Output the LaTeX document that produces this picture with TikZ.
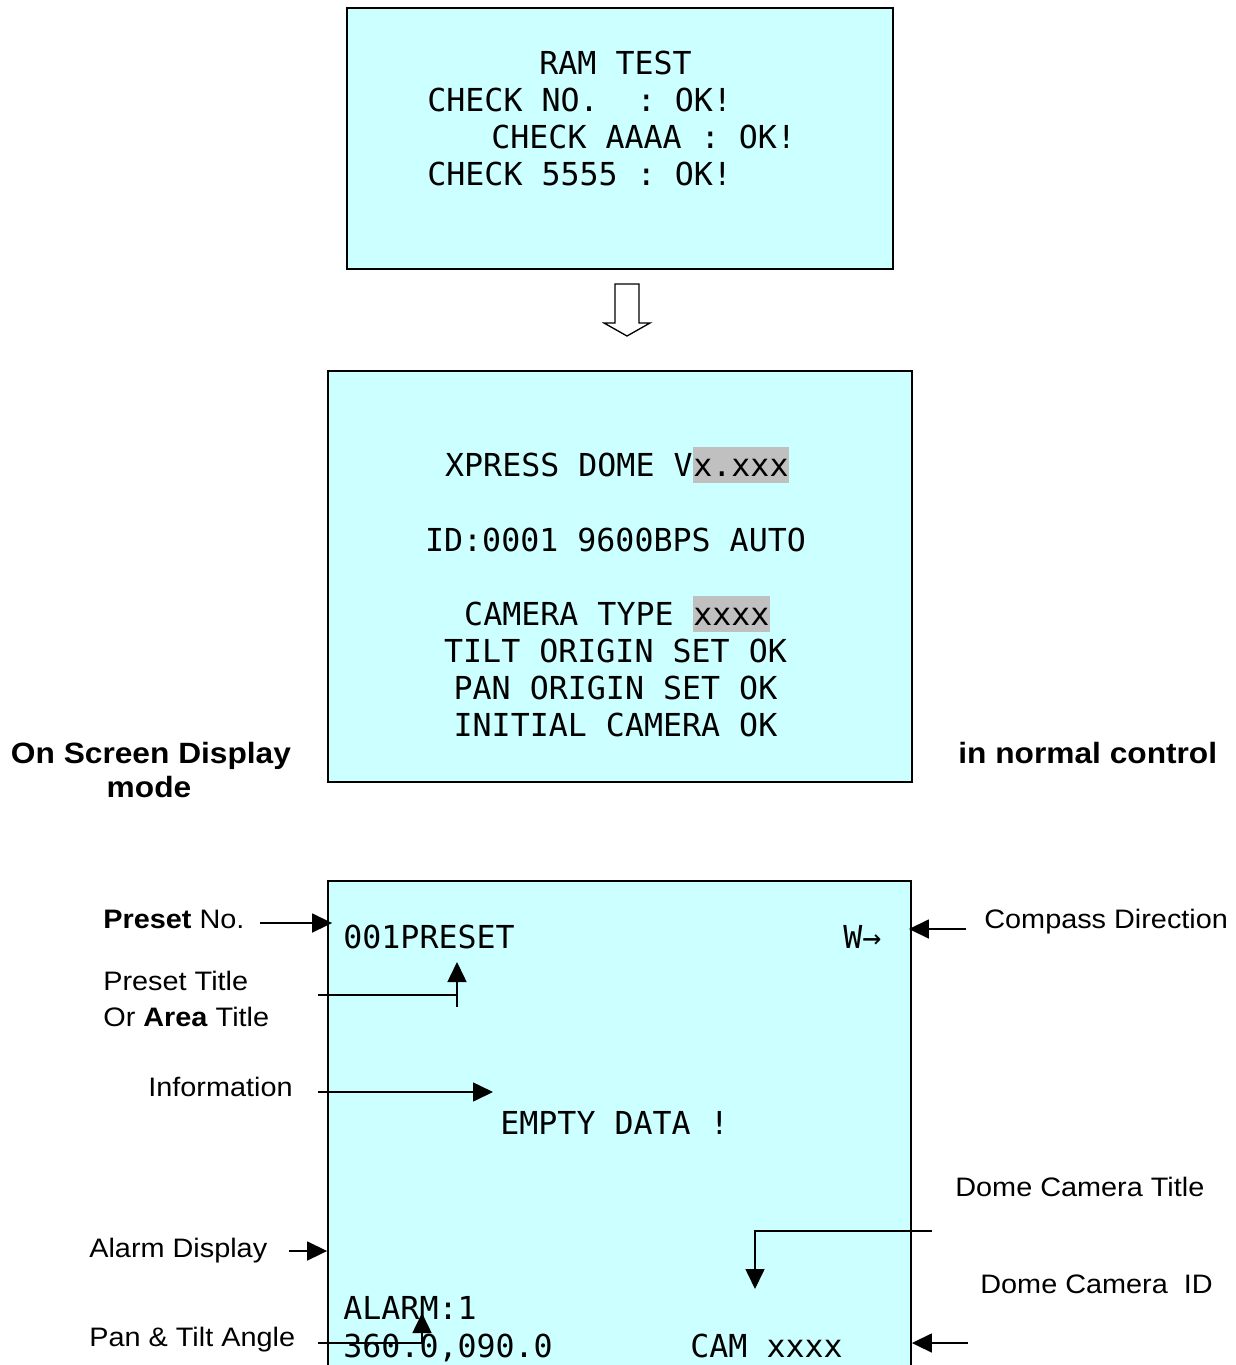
\documentclass[tikz,border=0pt]{standalone}
\usepackage{fontspec}
\setmainfont{Liberation Sans}[FakeStretch=1.08]
\setmonofont{DejaVu Sans Mono}
\usepackage{tikz}
\usetikzlibrary{arrows.meta,positioning}
\definecolor{screencyan}{RGB}{204,255,255}
\definecolor{hlgray}{RGB}{192,192,192}
\tikzset{
    %Define style for the screens
    screen/.style={
           rectangle,
           draw=black, line width=1.1pt,
           fill=screencyan},
    %Define style for screen text
    osd/.style={
           font=\ttfamily\fontsize{18}{21}\selectfont,
           inner sep=0pt},
    hl/.style={
           osd,
           fill=hlgray,
           text height=0.59cm,
           text depth=0.13cm},
    %Define style for labels
    lbl/.style={
           font=\fontsize{15.2}{20}\selectfont,
           inner sep=0pt},
    head/.style={
           font=\bfseries\fontsize{16.7}{20}\selectfont,
           inner sep=0pt},
    % Define arrow style
    pil/.style={
           -{Triangle[length=0.4cm,width=0.38cm]},
           line width=0.9pt},
    lin/.style={
           line width=0.9pt}
}

\begin{document}
\begin{tikzpicture}[x=0.02cm, y=-0.02cm]
 \useasboundingbox (0,0) rectangle (1236,1365);
 %screens
 \node[screen, minimum width=10.92cm, minimum height=5.22cm] (ramscr) at (620,138.5) {};
 \node[screen, minimum width=11.68cm, minimum height=8.22cm] (bootscr) at (620,576.5) {};
 \node[screen, minimum width=11.66cm, minimum height=9.88cm] (osdscr) at (619.5,1128) {};

 %ram test screen
 \node[osd, anchor=base west] (ramtest) at (539,75) {RAM TEST};
 \node[osd, anchor=base west] (chkno) at (427,112) {CHECK NO.\ \ : OK!};
 \node[osd, anchor=base west] (chka) at (491,149) {CHECK AAAA : OK!};
 \node[osd, anchor=base west] (chkf) at (427,186) {CHECK 5555 : OK!};

 % hollow arrow between the screens
 \draw[line width=0.75pt, fill=white] (615,284) -- (639,284) -- (639,323) -- (650,323)
   -- (627,336) -- (604,323) -- (615,323) -- cycle;

 %boot screen
 \node[osd, anchor=base east] (ver) at (693,476.5) {XPRESS DOME V};
 \node[hl, anchor=base west] (verx) at (ver.base east) {x.xxx};
 \node[osd, anchor=base] (idline) at (615.5,551.5) {ID:0001 9600BPS AUTO};
 \node[osd, anchor=base east] (ctype) at (674,625.5) {CAMERA TYPE};
 \node[hl, anchor=base west] (ctypex) at ([xshift=0.38cm]ctype.base east) {xxxx};
 \node[osd, anchor=base] (tilt) at (615.5,662.5) {TILT ORIGIN SET OK};
 \node[osd, anchor=base] (pan) at (615.5,699.5) {PAN ORIGIN SET OK};
 \node[osd, anchor=base] (initcam) at (615.5,736.5) {INITIAL CAMERA OK};

 %headings
 \node[head, anchor=base] (osdhead) at (151,763) {On Screen Display};
 \node[head, anchor=base] (osdmode) at (149,797) {mode};
 \node[head, anchor=base west] (normal) at (958,763) {in normal control};

 %osd screen
 \node[osd, anchor=base west] (presetln) at (343,948.5) {001PRESET};
 \node[osd, anchor=base west] (compass) at (843,948.5) {W→};
 \node[osd, anchor=base west] (info) at (500,1134.5) {EMPTY DATA !};
 \node[osd, anchor=base west] (alarm) at (343,1319.5) {ALARM:1};
 \node[osd, anchor=base west] (angle) at (343,1357.5) {360.0,090.0};
 \node[osd, anchor=base west] (camid) at (690,1357.5) {CAM xxxx};

 %labels
 \node[lbl, anchor=base west] (presetno) at (103,928) {\textbf{Preset} No.};
 \node[lbl, anchor=base west] (ptitle) at (103,990) {Preset Title};
 \node[lbl, anchor=base west] (atitle) at (103,1026) {Or \textbf{Area} Title};
 \node[lbl, anchor=base west] (infolbl) at (148,1096) {Information};
 \node[lbl, anchor=base west] (alarmlbl) at (89,1257) {Alarm Display};
 \node[lbl, anchor=base west] (anglelbl) at (89,1346) {Pan \& Tilt Angle};
 \node[lbl, anchor=base west] (compasslbl) at (984,928) {Compass Direction};
 \node[lbl, anchor=base west] (titlelbl) at (955,1196) {Dome Camera Title};
 \node[lbl, anchor=base west] (idlbl) at (980,1293) {Dome Camera\ \ ID};

 % arrow ends
 \coordinate (pno-a) at (260,923);
 \coordinate (pt-a) at (318,995);
 \coordinate (pt-b) at (457,995);
 \coordinate (pt-t) at (457,962);
 \coordinate (inf-a) at (318,1092);
 \coordinate (inf-t) at (493,1092);
 \coordinate (alm-a) at (289,1251);
 \coordinate (ang-a) at (318,1343);
 \coordinate (ang-b) at (422,1343);
 \coordinate (ang-t) at (422,1313);
 \coordinate (cmp-a) at (966,929);
 \coordinate (ttl-a) at (932,1231);
 \coordinate (ttl-b) at (755,1231);
 \coordinate (ttl-t) at (755,1289);
 \coordinate (cid-a) at (968,1343);

 %connectors
 \draw[pil] (pno-a) -- ([xshift=0.1cm]osdscr.west |- pno-a);
 \draw[lin] (pt-a) -- (pt-b);
 \draw[pil] ([yshift=-0.24cm]pt-b) -- (pt-t);
 \draw[pil] (inf-a) -- (inf-t);
 \draw[pil] (alm-a) -- (osdscr.west |- alm-a);
 \draw[pil] (ang-a) -- (ang-b) -- (ang-t);
 \draw[pil] (cmp-a) -- ([xshift=-0.06cm]osdscr.east |- cmp-a);
 \draw[pil] (ttl-a) -- (ttl-b) -- (ttl-t);
 \draw[pil] (cid-a) -- (osdscr.east |- cid-a);
\end{tikzpicture}
\end{document}
